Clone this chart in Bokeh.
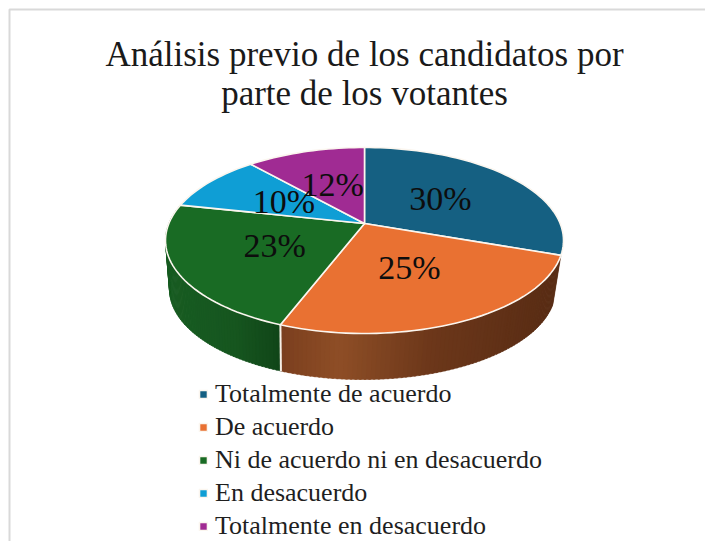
import math
from bokeh.core.properties import value
from bokeh.embed import file_html
from bokeh.models import Legend, LegendItem, Range1d
from bokeh.plotting import figure
from bokeh.resources import INLINE

title_lines = ["Análisis previo de los candidatos por", "parte de los votantes"]
categories = ["Totalmente de acuerdo", "De acuerdo", "Ni de acuerdo ni en desacuerdo",
              "En desacuerdo", "Totalmente en desacuerdo"]
values = [30.4, 25.4, 22.6, 10.1, 11.5]
colors = ["#156082", "#E97132", "#196B24", "#0F9ED5", "#A02B93"]

FONT = "Liberation Serif"
CX, CY, RX, RY, TILT = 364, 240, 199, 93, 0.183
BX, BY, BRX, BRY = 362, 289, 193, 90


def disk(t, r=1.0):
    u, v = r * math.sin(t), r * math.cos(t)
    w = 1 + TILT * v
    return u * math.sqrt(1 - TILT ** 2) / w, (v + TILT) / w


def top(t, r=1.0):
    a, b = disk(t, r)
    return CX + RX * a, CY - RY * b


def bottom(t):
    a, b = disk(t)
    return BX + BRX * a, BY - BRY * b


def shade(stops, f):
    for (f0, c0), (f1, c1) in zip(stops, stops[1:]):
        if f <= f1:
            k = (f - f0) / (f1 - f0)
            return "#%02x%02x%02x" % tuple(round(x + (y - x) * k) for x, y in zip(c0, c1))
    return "#%02x%02x%02x" % stops[-1][1]


p = figure(width=705, height=541, output_backend="svg", toolbar_location=None,
           x_range=Range1d(0, 705), y_range=Range1d(541, 0), min_border=0)
p.axis.visible = False
p.grid.visible = False
p.outline_line_color = None
p.background_fill_color = "white"
p.border_fill_color = "white"

p.line([9, 9, 705], [541, 9, 9], line_color="#d9d9d9", line_width=2)

total = sum(values)
edges = [0.0]
for v in values:
    edges.append(edges[-1] + v / total * 2 * math.pi)

wall_ramps = {
    1: [(0.0, (122, 62, 30)), (0.22, (142, 78, 38)), (0.55, (108, 55, 26)), (1.0, (88, 44, 20))],
    2: [(0.0, (24, 92, 34)), (0.6, (22, 86, 31)), (1.0, (17, 70, 25))],
}
seam_x = bottom(edges[2])[0]
for i in (2, 1):
    n = 80
    ramp = wall_ramps[i]
    far_x = bottom(edges[1])[0] if i == 1 else BX - BRX
    for k in range(n):
        t0 = edges[i] + (edges[i + 1] - edges[i]) * k / n
        t1 = min(edges[i] + (edges[i + 1] - edges[i]) * (k + 1.4) / n, edges[i + 1])
        a0, a1, b0, b1 = top(t0), top(t1), bottom(t0), bottom(t1)
        if i == 1:
            f = (b0[0] - seam_x) / (far_x - seam_x)
        else:
            f = (b0[0] - far_x) / (seam_x - far_x)
        col = shade(ramp, max(0.0, min(1.0, f)))
        p.patch([a0[0], a1[0], b1[0], b0[0]], [a0[1], a1[1], b1[1], b0[1]],
                fill_color=col, line_color=col, line_width=0.5)

seam_top, seam_bot = top(edges[2]), bottom(edges[2])
p.line([seam_top[0], seam_bot[0]], [seam_top[1], seam_bot[1]], line_color="#f6efe6", line_width=2)

apex = top(0, 0.0)
items = []
for i, (name, col) in enumerate(zip(categories, colors)):
    n = max(6, int(values[i] * 2))
    ts = [edges[i] + (edges[i + 1] - edges[i]) * k / n for k in range(n + 1)]
    pts = [top(t) for t in ts]
    xs = [apex[0]] + [a for a, _ in pts]
    ys = [apex[1]] + [b for _, b in pts]
    r = p.patch(xs, ys, fill_color=col, line_color="#fbf6ef", line_width=1.6, line_join="round")
    items.append(LegendItem(label=name, renderers=[r]))

label_pts = [top((edges[i] + edges[i + 1]) / 2, 0.5) for i in range(len(values))]
p.text([a for a, _ in label_pts], [b for _, b in label_pts], text=[f"{v:.0f}%" for v in values],
       text_font=value(FONT), text_font_size="34px", text_color="#0d0d0d",
       text_align="center", text_baseline="middle")

p.text([364, 364], [54, 93], text=title_lines, text_font=value(FONT), text_font_size="35px",
       text_color="#1a1a1a", text_align="center", text_baseline="middle")

legend = Legend(items=items, location=(198, 0), orientation="vertical",
                background_fill_alpha=0, border_line_color=None,
                glyph_width=10, glyph_height=10, label_text_font=FONT,
                label_text_font_size="26px", label_text_color="#1f1f1f",
                label_standoff=7, label_height=21, spacing=3,
                padding=0, margin=0)
p.add_layout(legend)

open("out.html", "w").write(file_html(p, INLINE))
